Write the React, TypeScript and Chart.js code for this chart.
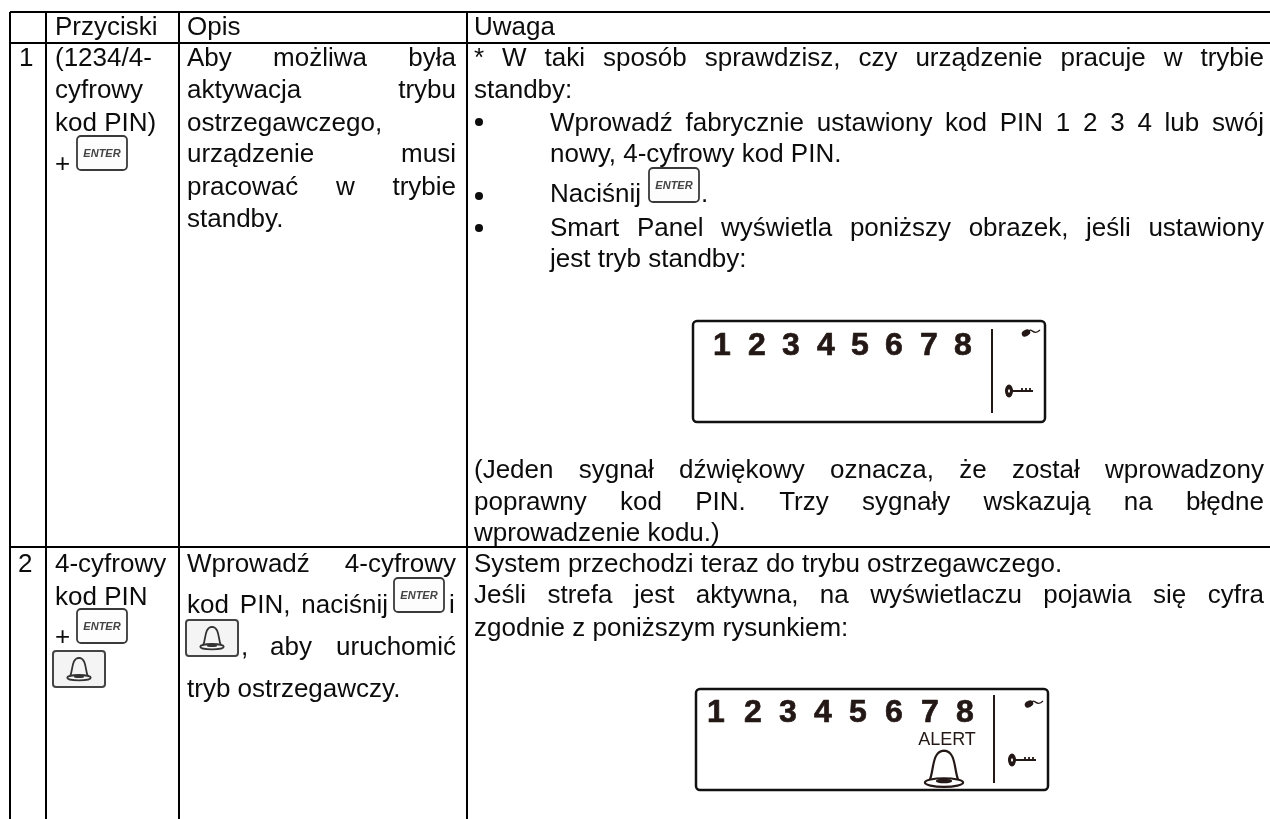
import React, { useEffect, useRef } from "react";
import { Chart, registerables } from "chart.js";
Chart.register(...registerables);

const FONT = '"Liberation Sans"';
const W = 1270, H = 819;

// ---- content ----
const headers = ["Przyciski", "Opis", "Uwaga"];
const rowNumbers = ["1", "2"];
const buttons1 = ["(1234/4-", "cyfrowy", "kod PIN)", "+"];
const buttons2 = ["4-cyfrowy", "kod PIN", "+"];
const desc1 = ["Aby możliwa była", "aktywacja trybu", "ostrzegawczego,", "urządzenie musi", "pracować w trybie", "standby."];
const desc2 = ["Wprowadź 4-cyfrowy", "kod PIN, naciśnij", "i", "aby uruchomić", "tryb ostrzegawczy."];
const note1 = [
  "* W taki sposób sprawdzisz, czy urządzenie pracuje w trybie",
  "standby:",
  "Wprowadź fabrycznie ustawiony kod PIN 1 2 3 4 lub swój",
  "nowy, 4-cyfrowy kod PIN.",
  "Naciśnij",
  ".",
  "Smart Panel wyświetla poniższy obrazek, jeśli ustawiony",
  "jest tryb standby:",
  "(Jeden sygnał dźwiękowy oznacza, że został wprowadzony",
  "poprawny kod PIN. Trzy sygnały wskazują na błędne",
  "wprowadzenie kodu.)",
];
const note2 = [
  "System przechodzi teraz do trybu ostrzegawczego.",
  "Jeśli strefa jest aktywna, na wyświetlaczu pojawia się cyfra",
  "zgodnie z poniższym rysunkiem:",
];
const panelDigits = ["1", "2", "3", "4", "5", "6", "7", "8"];
const enterLabel = "ENTER";
const alertLabel = "ALERT";

// ---- layout ----
const vRules = [10, 46, 179, 467];
const hRules = [12, 43, 547];
const colText = [55, 187, 474];
const colRight = 456, noteRight = 1264, bulletText = 550;
const panel1DigitX = [722, 757, 791, 826, 860, 894, 929, 963];
const panel2DigitX = [716, 753, 788, 823, 858, 894, 930, 965];

export default function App() {
  const ref = useRef<HTMLCanvasElement>(null);
  useEffect(() => {
    const chart = new Chart(ref.current!, {
      type: "scatter",
      data: { datasets: [{ data: [] }] },
      options: {
        animation: false, responsive: false, layout: { padding: 0 },
        plugins: { legend: { display: false }, tooltip: { enabled: false } },
        scales: { x: { display: false, min: 0, max: W }, y: { display: false, min: 0, max: H, reverse: true } },
      },
      plugins: [{
        id: "table",
        afterDraw(c) {
          const g = c.ctx;
          const sx = (v: number) => c.scales.x.getPixelForValue(v);
          const sy = (v: number) => c.scales.y.getPixelForValue(v);
          const INK = "#0c0c0c";
          const DARK = "#231815";
          const body = `26px ${FONT}`;
          const text = (t: string, x: number, y: number) => { g.fillStyle = INK; g.font = body; g.textAlign = "left"; g.fillText(t, sx(x), sy(y)); };
          const just = (t: string, x0: number, x1: number, y: number) => {
            g.fillStyle = INK; g.font = body; g.textAlign = "left";
            const ws = t.split(" ");
            const total = ws.reduce((a, w) => a + g.measureText(w).width, 0);
            const gap = (x1 - x0 - total) / (ws.length - 1);
            let x = x0;
            ws.forEach((w) => { g.fillText(w, sx(x), sy(y)); x += g.measureText(w).width + gap; });
          };
          const bullet = (y: number) => { g.fillStyle = INK; g.beginPath(); g.arc(sx(479), sy(y), 4, 0, 7); g.fill(); };

          const enter = (x: number, y: number) => {
            const w = 50, h = 34;
            g.fillStyle = "#fdfdfd"; g.strokeStyle = "#3a3a3a"; g.lineWidth = 1.8;
            g.beginPath(); g.roundRect(sx(x), sy(y), w, h, 4); g.fill(); g.stroke();
            g.fillStyle = "#444"; g.font = `italic bold 11px ${FONT}`; g.textAlign = "center";
            g.fillText(enterLabel, sx(x + w / 2), sy(y + 21));
            g.textAlign = "left";
          };
          const bellGlyph = (cx: number, top: number, bottom: number, lw: number, color: string) => {
            const h = bottom - top, hw = h * 0.5;
            g.strokeStyle = color; g.lineWidth = lw; g.fillStyle = color;
            g.beginPath();
            g.moveTo(cx - hw * 0.72, top + h * 0.78);
            g.bezierCurveTo(cx - hw * 0.52, top + h * 0.55, cx - hw * 0.62, top + h * 0.05, cx, top + h * 0.04);
            g.bezierCurveTo(cx + hw * 0.62, top + h * 0.05, cx + hw * 0.52, top + h * 0.55, cx + hw * 0.72, top + h * 0.78);
            g.stroke();
            g.beginPath(); g.ellipse(cx, top + h * 0.86, hw * 0.98, h * 0.11, 0, 0, 7); g.stroke();
            g.beginPath(); g.ellipse(cx, top + h * 0.82, hw * 0.42, h * 0.06, 0, 0, 7); g.fill();
          };
          const bellBtn = (x: number, y: number) => {
            const w = 52, h = 36;
            g.fillStyle = "#f4f4f4"; g.strokeStyle = "#444"; g.lineWidth = 2;
            g.beginPath(); g.roundRect(sx(x), sy(y), w, h, 3); g.fill(); g.stroke();
            bellGlyph(sx(x + w / 2), sy(y + 6), sy(y + 30), 1.8, "#333");
          };
          const panel = (x: number, y: number, w: number, h: number, digitXs: number[], digitBase: number, sepX: number, sepTop: number, sepBot: number, plugY: number, keyY: number) => {
            g.strokeStyle = "#111"; g.lineWidth = 2.5;
            g.beginPath(); g.roundRect(sx(x), sy(y), w, h, 4); g.stroke();
            g.fillStyle = DARK; g.strokeStyle = DARK; g.lineWidth = 0.7; g.lineJoin = "round";
            g.font = `bold 32px ${FONT}`; g.textAlign = "center";
            panelDigits.forEach((d, i) => { g.fillText(d, sx(digitXs[i]), sy(digitBase)); g.strokeText(d, sx(digitXs[i]), sy(digitBase)); });
            g.textAlign = "left";
            g.lineWidth = 2;
            g.beginPath(); g.moveTo(sx(sepX), sy(sepTop)); g.lineTo(sx(sepX), sy(sepBot)); g.stroke();
            // plug icon
            const px = x + w - 17;
            g.fillStyle = DARK; g.beginPath(); g.ellipse(sx(px - 2), sy(plugY), 4.5, 3.2, -0.5, 0, 7); g.fill();
            g.lineWidth = 1.3; g.beginPath(); g.moveTo(sx(px), sy(plugY - 1)); g.bezierCurveTo(sx(px + 4), sy(plugY - 7), sx(px + 5), sy(plugY + 4), sx(px + 12), sy(plugY - 3)); g.stroke();
            // key icon
            const kx = x + w - 36;
            g.fillStyle = DARK; g.beginPath(); g.ellipse(sx(kx), sy(keyY), 4, 6.5, 0, 0, 7); g.fill();
            g.lineWidth = 1.8; g.beginPath(); g.moveTo(sx(kx + 3), sy(keyY)); g.lineTo(sx(kx + 24), sy(keyY));
            [13, 17, 21].forEach((o) => { g.moveTo(sx(kx + o), sy(keyY)); g.lineTo(sx(kx + o), sy(keyY - 3)); });
            g.stroke();
            g.fillStyle = "#fff"; g.beginPath(); g.ellipse(sx(kx), sy(keyY), 1, 1.8, 0, 0, 7); g.fill();
          };

          // rules
          g.fillStyle = "#000";
          hRules.forEach((y) => g.fillRect(sx(10), sy(y) - 1, W - 10, 2));
          vRules.forEach((x) => g.fillRect(sx(x) - 1, sy(hRules[0]), 2, H - hRules[0]));

          // header + numbers
          headers.forEach((t, i) => text(t, colText[i], 35));
          text(rowNumbers[0], 19, 66);
          text(rowNumbers[1], 18, 572);

          // col 2
          [66, 98, 131, 172].forEach((y, i) => text(buttons1[i], colText[0], y));
          enter(77, 136);
          [572, 605, 645].forEach((y, i) => text(buttons2[i], colText[0], y));
          enter(77, 609);
          bellBtn(53, 651);

          // col 3
          just(desc1[0], colText[1], colRight, 66);
          just(desc1[1], colText[1], colRight, 98);
          text(desc1[2], colText[1], 131);
          just(desc1[3], colText[1], colRight, 162);
          just(desc1[4], colText[1], colRight, 195);
          text(desc1[5], colText[1], 227);
          just(desc2[0], colText[1], colRight, 572);
          just(desc2[1], colText[1], 388, 613);
          enter(394, 578);
          text(desc2[2], 449, 613);
          bellBtn(186, 620);
          text(",", 241, 655);
          just(desc2[3], 270, colRight, 655);
          text(desc2[4], colText[1], 697);

          // col 4
          just(note1[0], colText[2], noteRight, 66);
          text(note1[1], colText[2], 98);
          bullet(122); just(note1[2], bulletText, noteRight, 131);
          text(note1[3], bulletText, 162);
          bullet(196); text(note1[4], bulletText, 202);
          enter(649, 168);
          text(note1[5], 701, 202);
          bullet(228); just(note1[6], bulletText, noteRight, 236);
          text(note1[7], bulletText, 267);
          panel(693, 321, 352, 101, panel1DigitX, 355, 992, 329, 413, 333, 391);
          just(note1[8], colText[2], noteRight, 478);
          just(note1[9], colText[2], noteRight, 510);
          text(note1[10], colText[2], 541);
          text(note2[0], colText[2], 572);
          just(note2[1], colText[2], noteRight, 603);
          text(note2[2], colText[2], 636);
          panel(696, 689, 352, 101, panel2DigitX, 722, 994, 695, 783, 704, 760);
          g.fillStyle = DARK; g.font = `18px ${FONT}`; g.textAlign = "center";
          g.fillText(alertLabel, sx(947), sy(745));
          g.textAlign = "left";
          bellGlyph(sx(944), sy(749), sy(788), 2.2, DARK);
        },
      }],
    });
    return () => chart.destroy();
  }, []);
  return <canvas ref={ref} width={W} height={H} style={{ display: "block", position: "absolute", left: 0, top: 0 }} />;
}
